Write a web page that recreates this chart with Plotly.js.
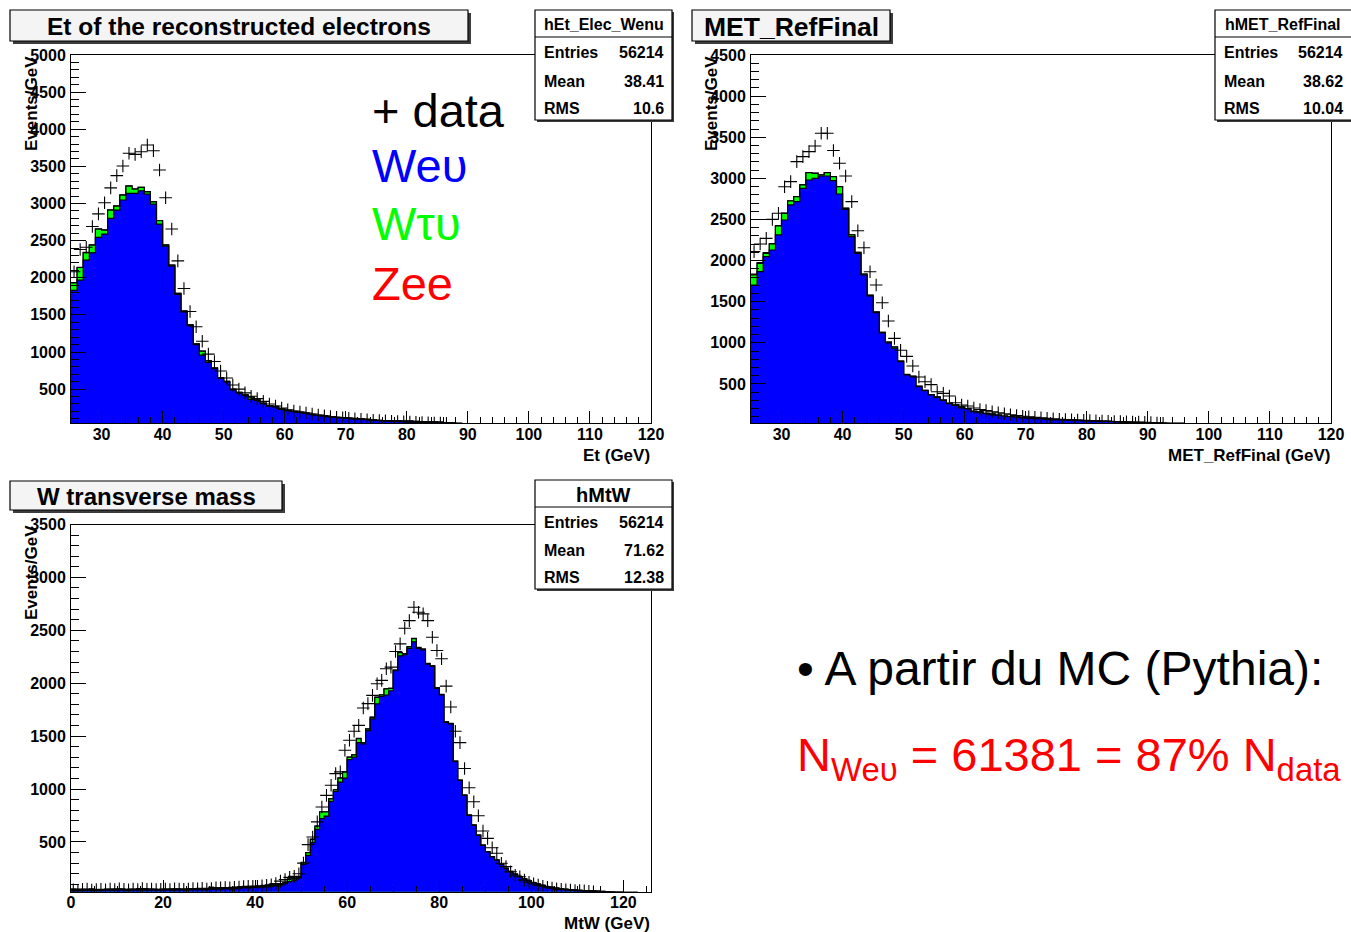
<!DOCTYPE html>
<html><head><meta charset="utf-8">
<script src="https://cdn.plot.ly/plotly-3.0.1.min.js"></script>
<style>html,body{margin:0;padding:0;background:#fff;}#chart{width:1351px;height:932px;}</style>
</head><body><div id="chart"></div>
<script>
// ---------- DATA ----------
// Et of reconstructed electrons: 1 GeV bins starting at 25 GeV
const etFirstBin = 25;
const etWenu = [1830,1968,2238,2336,2543,2588,2800,2912,3047,3137,
 3137,3172,3127,2993,2723,2426,2157,1775,1541,1355,
 1100,958,860,775,644,596,490,448,418,362,
 348,306,272,262,226,210,198,186,174,157,
 145,138,125,118,112,108,102,98,92,84,
 78,76,74,72,70,68,64,62,60,57,
 54,50,44,38,35,33,31,30,28,26,
 25,23,22,20,19,18,17,16,15,14,
 13,12,12,11,10,10,9,9,8,8,
 7,7,6,6,5];
const etWtaunu = [100,170,100,104,113,54,112,54,67,98,
 58,45,31,30,45,14,13,14,10,10,
 10,54,20,10,10,8,8,8,6,30,
 6,5,5,5,4,4,3,3,3,3,
 2,2,2,2,2,2,2,1,1,1,
 1,1,1,1,1,1,1,1,1,1,
 1,1,1,1,1,1,0,0,0,0,
 0,0,0,0,0,0,0,0,0,0,
 0,0,0,0,0,0,0,0,0,0,
 0,0,0,0,0];
const etZee = [4,3,3,2,2,2,2,2,2,2,
 2,2,2,2,2,2,2,2,2,2,
 1,1,1,1,1,1,1,1,1,1,
 1,1,1,1,1,1,1,1,1,1,
 1,1,1,1,1,1,1,1,1,1,
 0,0,0,0,0,0,0,0,0,0,
 0,0,0,0,0,0,0,0,0,0,
 0,0,0,0,0,0,0,0,0,0,
 0,0,0,0,0,0,0,0,0,0,
 0,0,0,0,0];
const etData = [2080,2380,2410,2690,2860,3010,3210,3375,3505,3676,
 3662,3698,3788,3711,3451,3078,2656,2228,1856,1545,
 1340,1145,972,872,745,650,555,500,450,405,
 372,335,300,272,245,222,205,190,178,165,
 152,140,130,122,115,108,100,95,88,82,
 76,72,68,64,60,57,54,50,47,45,
 42,40,38,36,34,32,30,26,22,18,
 14,12,10,9,8,7,6,5,5,4,
 4,3,3,3,2,2,2,2,1,1,
 1,1,1,0,0];

// MET_RefFinal: 1 GeV bins starting at 25 GeV
const metFirstBin = 25;
const metWenu = [1703,1865,2048,2129,2312,2494,2677,2717,2879,2980,
 3001,3029,3029,2972,2810,2624,2291,2089,1825,1570,
 1367,1120,1000,935,771,609,589,467,418,366,
 338,300,262,240,210,196,165,150,140,125,
 120,108,102,96,88,83,80,76,68,64,
 62,60,58,56,52,50,48,46,45,42,
 36,32,30,28,26,25,24,23,22,21,
 20,19,18,17,16,15,14,13,12,12,
 11,11,10,10,9,9,8,8,7,7,
 6,6,5,5,5];
const metWtaunu = [122,102,41,73,109,81,48,60,41,89,
 60,12,40,49,89,12,21,10,10,8,
 8,8,8,15,6,6,5,5,5,5,
 4,4,4,4,12,4,3,10,3,10,
 3,3,2,2,2,2,2,2,1,1,
 1,1,1,1,1,1,1,1,1,1,
 1,1,1,1,1,1,0,0,0,0,
 0,0,0,0,0,0,0,0,0,0,
 0,0,0,0,0,0,0,0,0,0,
 0,0,0,0,0];
const metZee = [10,10,8,5,4,3,3,2,2,2,
 2,2,2,2,2,2,2,2,2,2,
 1,1,1,1,1,1,1,1,1,1,
 1,1,1,1,1,1,1,1,1,1,
 0,0,0,0,0,0,0,0,0,0,
 0,0,0,0,0,0,0,0,0,0,
 0,0,0,0,0,0,0,0,0,0,
 0,0,0,0,0,0,0,0,0,0,
 0,0,0,0,0,0,0,0,0,0,
 0,0,0,0,0];
const metData = [2109,2202,2271,2502,2575,2899,2960,3203,3264,3325,
 3394,3548,3548,3338,3183,3029,2717,2364,2157,1865,
 1703,1488,1265,1055,910,836,719,585,528,492,
 406,386,354,272,244,232,208,190,176,162,
 150,138,126,116,108,100,94,88,82,77,
 72,68,64,60,57,54,51,48,46,44,
 42,40,38,36,34,30,26,22,18,15,
 12,10,9,8,7,6,5,5,4,4,
 3,3,3,2,2,2,2,1,1,1,
 1,1,0,0,0];

// W transverse mass: 1 GeV bins starting at 0 GeV
const mtFirstBin = 0;
const mtWenu = [35,38,40,45,40,45,40,45,48,45,
 48,45,40,48,45,48,45,48,45,45,
 48,45,48,48,45,48,52,48,52,48,
 52,55,55,60,55,60,60,65,65,70,
 68,72,75,78,85,92,105,125,
 139,161,287,374,494,619,720,745,883,977,
 1066,1104,1279,1301,1439,1427,1552,1663,1804,1876,
 1889,1929,2118,2259,2269,2329,2391,2329,2316,2181,
 2159,1952,1889,1631,1615,1260,1081,940,751,657,
 563,468,406,359,327,287,249,220,195,170,
 150,130,115,100,88,78,70,62,56,52,
 48,45,42,40,38,36,34,32,30,28,
 27,26,25,24,23,22,21,20];
const mtWtaunu = [20,15,5,5,15,5,4,5,4,5,
 4,5,4,5,4,5,4,5,4,5,
 4,5,4,5,4,5,4,5,4,5,
 20,5,4,5,4,5,4,5,4,5,
 5,5,10,20,8,8,8,25,
 12,8,19,25,31,31,63,38,25,15,
 38,57,22,22,38,10,15,15,63,13,
 57,22,6,31,10,15,31,8,6,5,
 5,5,4,4,4,3,3,3,3,3,
 2,2,2,2,2,2,2,2,2,2,
 1,1,1,1,1,1,1,1,1,1,
 1,1,1,1,1,1,1,1,1,1,
 0,0,0,0,0,0,0,0];
const mtZee = [0,0,0,0,0,0,0,0,0,0,
 0,0,0,0,0,0,0,0,0,0,
 0,0,0,0,0,0,0,0,0,0,
 0,0,0,0,0,0,0,0,0,0,
 1,1,1,1,1,1,1,1,
 1,1,1,1,1,1,1,1,1,1,
 1,1,1,1,1,1,1,1,1,1,
 1,1,1,1,1,1,1,1,1,1,
 1,1,1,1,1,1,1,1,1,1,
 1,1,1,1,1,1,1,1,0,0,
 0,0,0,0,0,0,0,0,0,0,
 0,0,0,0,0,0,0,0,0,0,
 0,0,0,0,0,0,0,0];
const mtData = [48,42,52,55,46,50,52,48,55,50,
 58,52,48,55,50,60,52,56,50,52,
 55,50,58,56,52,56,60,58,62,56,
 60,68,66,70,68,72,74,78,80,82,
 82,86,90,96,108,130,145,165,
 175,200,300,475,547,690,830,940,1036,1146,
 1162,1366,1461,1546,1602,1766,1807,1885,1995,2027,
 2137,2152,2300,2372,2520,2592,2718,2671,2655,2592,
 2435,2309,2231,1973,1775,1546,1439,1194,1012,880,
 748,603,534,446,393,299,267,218,186,171,
 139,120,105,92,82,72,64,58,52,48,
 45,42,40,38,34,30,26,22,18,15,
 12,10,8,6,5,4,3,2];

// Stat boxes and texts
const statEt  = {name:'hEt_Elec_Wenu', entries:'56214', mean:'38.41', rms:'10.6'};
const statMet = {name:'hMET_RefFinal', entries:'56214', mean:'38.62', rms:'10.04'};
const statMt  = {name:'hMtW', entries:'56214', mean:'71.62', rms:'12.38'};

// ---------- HELPERS ----------
const W = 1351, H = 932;
const FONT = 'Liberation Sans, Arial, Helvetica, sans-serif';
const X = p => p / W;
const Y = p => 1 - p / H;
const yRanges = {y: [40, 5000], y2: [22, 4500], y3: [30, 3500]};

function stepped(first, vals) {
  const x = [], y = [];
  for (let i = 0; i < vals.length; i++) { x.push(first + i); y.push(vals[i]); }
  x.push(first + vals.length); y.push(vals[vals.length - 1]);
  return {x, y};
}
function addArr(a, b) { return a.map((v, i) => v + b[i]); }
function centers(first, vals) { return vals.map((v, i) => first + i + 0.5); }

function histTraces(first, wenu, wtau, zee, data, xa, ya) {
  const s2 = addArr(wenu, wtau);
  const s3 = addArr(s2, zee);
  const out = [];
  [[s3, '#ff0000', 'Zee'], [s2, '#00ff00', 'Wτυ'], [wenu, '#0000ff', 'Weυ']].forEach(([v, c, n]) => {
    const st = stepped(first, v);
    out.push({type: 'scatter', mode: 'lines', x: st.x, y: st.y, xaxis: xa, yaxis: ya, name: n,
      line: {shape: 'hv', color: '#000', width: 1.2}, fill: 'tozeroy', fillcolor: c, hoverinfo: 'skip'});
  });
  // like ROOT, points below the frame minimum are not drawn
  const ymin = yRanges[ya][0];
  out.push({type: 'scatter', mode: 'markers', x: centers(first, data), y: data.map(v => v >= ymin ? v : null),
    xaxis: xa, yaxis: ya, name: 'data',
    marker: {symbol: 'cross-thin-open', size: 9, color: '#000', line: {color: '#111', width: 1.1}}});
  return out;
}

const tickFont = {family: FONT, size: 16, color: '#000', weight: 'bold'};
function xAxis(domain, range, dtick, minor, anchor) {
  return {domain, range, anchor, showline: true, linecolor: '#000', linewidth: 1, mirror: true,
    ticks: 'inside', ticklen: 12, tickwidth: 1, tickcolor: '#000', dtick, tick0: 0,
    minor: {ticks: 'inside', ticklen: 6, dtick: minor, tickcolor: '#000', tickwidth: 1, showgrid: false},
    showgrid: false, zeroline: false, tickfont: tickFont, fixedrange: true, ticklabelstandoff: -4};
}
function yAxis(domain, range, anchor) {
  return {domain, range, anchor, showline: true, linecolor: '#000', linewidth: 1, mirror: true,
    ticks: 'inside', ticklen: 15, tickwidth: 1, tickcolor: '#000', dtick: 500, tick0: 0,
    minor: {ticks: 'inside', ticklen: 8, dtick: 100, tickcolor: '#000', tickwidth: 1, showgrid: false},
    showgrid: false, zeroline: false, tickfont: tickFont, fixedrange: true, ticklabelstandoff: 1};
}

const traces = [].concat(
  histTraces(etFirstBin, etWenu, etWtaunu, etZee, etData, 'x', 'y'),
  histTraces(metFirstBin, metWenu, metWtaunu, metZee, metData, 'x2', 'y2'),
  histTraces(mtFirstBin, mtWenu, mtWtaunu, mtZee, mtData, 'x3', 'y3')
);

// ---------- DECORATIONS ----------
const shapes = [];
const annotations = [];
function rect(x0, y0, x1, y1, fill, lw) {
  shapes.push({type: 'rect', xref: 'paper', yref: 'paper', x0: X(x0), x1: X(x1), y0: Y(y1), y1: Y(y0),
    fillcolor: fill, line: {color: '#000', width: lw}});
}
function hline(x0, x1, y) {
  shapes.push({type: 'line', xref: 'paper', yref: 'paper', x0: X(x0), x1: X(x1), y0: Y(y), y1: Y(y),
    line: {color: '#000', width: 1.2}});
}
function text(t, x, y, size, opts) {
  annotations.push(Object.assign({xref: 'paper', yref: 'paper', x: X(x), y: Y(y), text: t, showarrow: false,
    xanchor: 'left', yanchor: 'middle', font: {family: FONT, size, color: '#000'}}, opts || {}));
}
function titleBox(t, x0, y0, x1, y1, size) {
  rect(x0 + 3, y0 + 3, x1 + 3, y1 + 3, '#3c3c3c', 0);
  rect(x0, y0, x1, y1, '#f4f4f4', 1.2);
  text(t, (x0 + x1) / 2, (y0 + y1) / 2 + 1, size, {xanchor: 'center', font: {family: FONT, size, color: '#000', weight: 'bold'}});
}
function statBox(s, x0, y0, x1, sep, rows, hsize) {
  rect(x0 + 2, y0 + 2, x1 + 2, rows[2] + 14, '#3c3c3c', 0);
  rect(x0, y0, x1, rows[2] + 12, '#ffffff', 1.2);
  hline(x0, x1, sep);
  const bf = sz => ({family: FONT, size: sz, color: '#000', weight: 'bold'});
  text(s.name, (x0 + Math.min(x1, 1351)) / 2, (y0 + sep) / 2 + 1, hsize, {xanchor: 'center', font: bf(hsize)});
  const lx = x0 + 7, rx = Math.min(x1, 1351) - 6;
  [['Entries', s.entries], ['Mean', s.mean], ['RMS', s.rms]].forEach(([k, v], i) => {
    text(k, lx, rows[i], 16, {font: bf(16)});
    text(v, rx, rows[i], 16, {xanchor: 'right', font: bf(16)});
  });
}

titleBox('Et of the reconstructed electrons', 10, 10, 468, 41, 24.5);
titleBox('MET_RefFinal', 692, 10, 890, 41, 26.5);
titleBox('W transverse mass', 10, 481, 282, 510, 24);
statBox(statEt, 535, 10, 672, 37, [53, 81, 108], 16);
statBox(statMet, 1215, 10, 1356, 37, [53, 81, 108], 16);
statBox(statMt, 535, 480, 672, 507, [522, 550, 577], 20);

// axis titles
const bold17 = {family: FONT, size: 17, color: '#000', weight: 'bold'};
text('Events/GeV', 31, 104, 17, {xanchor: 'center', textangle: -90, font: bold17});
text('Events/GeV', 711, 104, 17, {xanchor: 'center', textangle: -90, font: bold17});
text('Events/GeV', 31, 573, 17, {xanchor: 'center', textangle: -90, font: bold17});
text('Et (GeV)', 652, 455, 17, {xanchor: 'right', font: bold17});
text('MET_RefFinal (GeV)', 1332, 455, 17, {xanchor: 'right', font: bold17});
text('MtW (GeV)', 652, 923, 17, {xanchor: 'right', font: bold17});

// legend-like text
text('+ data', 370, 110, 47, {font: {family: FONT, size: 47, color: '#000'}});
text('Weυ', 370, 166, 47, {font: {family: FONT, size: 47, color: '#0000ff'}});
text('Wτυ', 370, 223, 47, {font: {family: FONT, size: 47, color: '#00ff00'}});
text('Zee', 370, 283, 47, {font: {family: FONT, size: 47, color: '#ff0000'}});

// right-hand comment
text('• A partir du MC (Pythia):', 795, 668, 48, {font: {family: FONT, size: 48, color: '#000'}});
text('N<sub>Weυ</sub> = 61381 = 87% N<sub>data</sub>', 795, 758, 47, {font: {family: FONT, size: 47, color: '#ff0000'}});

const layout = {
  width: W, height: H, margin: {l: 0, r: 0, t: 0, b: 0}, paper_bgcolor: '#fff', plot_bgcolor: '#fff',
  showlegend: false, font: {family: FONT, color: '#000'},
  xaxis: xAxis([X(71), X(651)], [25, 120], 10, 2, 'y'),
  yaxis: yAxis([Y(423.3), Y(55)], yRanges.y, 'x'),
  xaxis2: xAxis([X(751), X(1331)], [25, 120], 10, 2, 'y2'),
  yaxis2: yAxis([Y(423.3), Y(55)], yRanges.y2, 'x2'),
  xaxis3: xAxis([X(71), X(651)], [0, 126], 20, 5, 'y3'),
  yaxis3: yAxis([Y(891.7), Y(524.5)], yRanges.y3, 'x3'),
  shapes, annotations
};
Plotly.newPlot('chart', traces, layout, {displayModeBar: false, staticPlot: true});
</script>
</body></html>
